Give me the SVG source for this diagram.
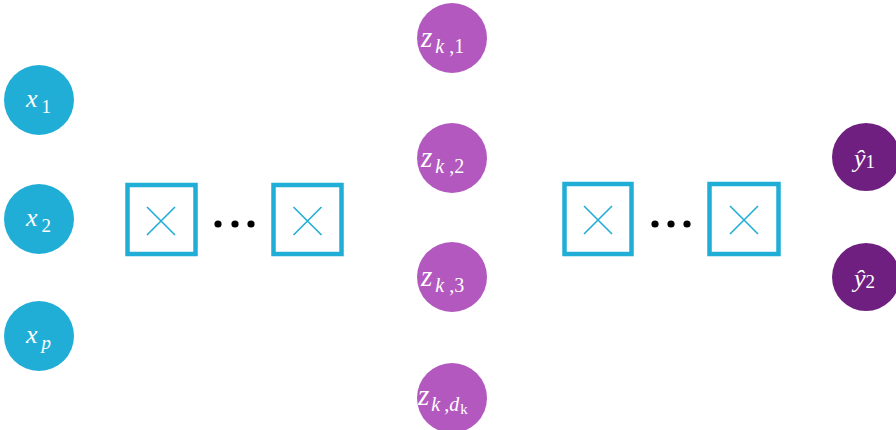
<svg xmlns="http://www.w3.org/2000/svg" width="896" height="430" viewBox="0 0 896 430">
<style>
.in{fill:#20aed6}
.z{fill:#b258bf}
.out{fill:#6e1f7f}
.lbl{font-family:'Liberation Serif','Times New Roman',serif;fill:#fff;font-size:26px}
.zl{font-size:29px}
.it{font-style:italic}
.sub{font-size:19px}
.zs{font-size:20px}
.box{fill:#fff;stroke:#20aed6;stroke-width:4.5}
.cross{stroke:#20aed6;stroke-width:1.6;fill:none}
.dot{fill:#000}
</style>
<rect width="896" height="430" fill="#fff"/>
<g id="x1"><circle class="in" cx="39" cy="100" r="35"/><text class="lbl" x="26" y="107"><tspan class="it">x</tspan><tspan class="sub" dx="4" dy="6">1</tspan></text></g>
<g id="x2"><circle class="in" cx="39" cy="219" r="35"/><text class="lbl" x="26" y="226"><tspan class="it">x</tspan><tspan class="sub" dx="4" dy="6">2</tspan></text></g>
<g id="xp"><circle class="in" cx="39" cy="336" r="35"/><text class="lbl" x="26" y="343"><tspan class="it">x</tspan><tspan class="sub it" dx="4" dy="6">p</tspan></text></g>

<g id="block1">
<rect class="box" x="127.5" y="185" width="68" height="69"/>
<path class="cross" d="M147 207 L175 235 M175 207 L147 235"/>
</g>
<g id="dots1"><circle class="dot" cx="218" cy="224" r="3.6"/><circle class="dot" cx="235" cy="224" r="3.6"/><circle class="dot" cx="251" cy="224" r="3.6"/></g>
<g id="block2">
<rect class="box" x="273.5" y="185" width="68" height="69"/>
<path class="cross" d="M293.5 207 L321.5 235 M321.5 207 L293.5 235"/>
</g>

<g id="z1"><circle class="z" cx="452" cy="38" r="35"/><text class="lbl zl" x="421" y="47"><tspan class="it">z</tspan><tspan class="zs it" dx="3" dy="6">k</tspan><tspan class="zs" dx="5">,1</tspan></text></g>
<g id="z2"><circle class="z" cx="452" cy="158" r="35"/><text class="lbl zl" x="421" y="167"><tspan class="it">z</tspan><tspan class="zs it" dx="3" dy="6">k</tspan><tspan class="zs" dx="5">,2</tspan></text></g>
<g id="z3"><circle class="z" cx="452" cy="277" r="35"/><text class="lbl zl" x="421" y="286"><tspan class="it">z</tspan><tspan class="zs it" dx="3" dy="6">k</tspan><tspan class="zs" dx="5">,3</tspan></text></g>
<g id="zd"><circle class="z" cx="452" cy="398" r="35"/><text class="lbl zl" x="418" y="405"><tspan class="it">z</tspan><tspan class="zs it" dx="2" dy="6">k</tspan><tspan class="zs" dx="4">,</tspan><tspan class="zs it">d</tspan><tspan class="zs" style="font-size:15px" dx="1" dy="3">k</tspan></text></g>

<g id="block3">
<rect class="box" x="564.5" y="184" width="67" height="70"/>
<path class="cross" d="M584 206 L612 234 M612 206 L584 234"/>
</g>
<g id="dots2"><circle class="dot" cx="655" cy="224" r="3.6"/><circle class="dot" cx="671" cy="224" r="3.6"/><circle class="dot" cx="687" cy="224" r="3.6"/></g>
<g id="block4">
<rect class="box" x="709.5" y="184" width="69" height="70"/>
<path class="cross" d="M730 206 L758 234 M758 206 L730 234"/>
</g>

<g id="y1"><circle class="out" cx="866" cy="157" r="34"/><text class="lbl" x="854" y="167"><tspan class="it">ŷ</tspan><tspan class="sub" dx="0" dy="1">1</tspan></text></g>
<g id="y2"><circle class="out" cx="866" cy="277" r="34"/><text class="lbl" x="854" y="287"><tspan class="it">ŷ</tspan><tspan class="sub" dx="0" dy="1">2</tspan></text></g>
<g id="connectors"></g>
</svg>
